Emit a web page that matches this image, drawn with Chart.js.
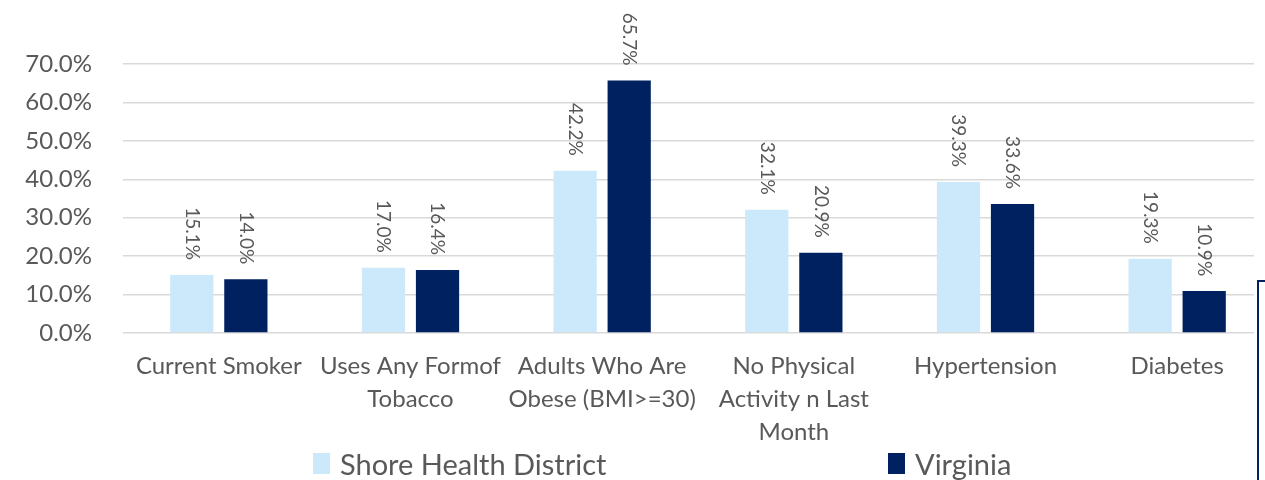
<!DOCTYPE html>
<html>
<head>
<meta charset="utf-8">
<script src="https://cdn.jsdelivr.net/npm/chart.js@4/dist/chart.umd.min.js"></script>
<style>
  html, body { margin: 0; padding: 0; background: #fff; overflow: hidden; }
  #wrap { position: relative; width: 1265px; height: 480px; overflow: hidden; }
  #legend { position: absolute; left: 0; top: 446px; width: 1265px; height: 34px;
            font-family: Lato, "Open Sans", sans-serif; font-size: 29px; color: #595959; }
  .item { position: absolute; top: 0; display: flex; align-items: center; }
  .box { width: 17px; height: 21px; margin-right: 10px; }
</style>
</head>
<body>
<div id="wrap">
  <canvas id="myChart" width="1280" height="480"></canvas>
  <div id="legend"></div>
</div>
<script>
const categories = ["Current Smoker", ["Uses Any Formof", "Tobacco"], ["Adults Who Are", "Obese (BMI>=30)"],
    ["No Physical", "Activity n Last", "Month"], "Hypertension", "Diabetes"]
const seriesNames = ["Shore Health District", "Virginia"]
const shoreValues = [15.1, 17.0, 42.2, 32.1, 39.3, 19.3]
const virginiaValues = [14.0, 16.4, 65.7, 20.9, 33.6, 10.9]
const yTicks = [0, 10, 20, 30, 40, 50, 60, 70]
const barColors = ['#cce9fb', '#00215f']
const textColor = '#595959'
const fontFamily = 'Lato, "Open Sans", sans-serif'

// value labels, rotated, above each bar
const barLabels = {
    id: 'barLabels',
    afterDatasetsDraw(chart) {
        const ctx = chart.ctx
        ctx.save()
        ctx.font = '19px ' + fontFamily
        ctx.fillStyle = textColor
        ctx.textAlign = 'right'
        ctx.textBaseline = 'middle'
        chart.data.datasets.forEach((ds, i) => {
            chart.getDatasetMeta(i).data.forEach((bar, j) => {
                ctx.save()
                ctx.translate(bar.x, bar.y - 15)
                ctx.rotate(Math.PI / 2)
                ctx.fillText(ds.data[j].toFixed(1) + '%', 0, 0)
                ctx.restore()
            })
        })
        ctx.restore()
    }
}

// the picture is cut at the right: a strip of white and the edge of another frame
const edgeFrame = {
    id: 'edgeFrame',
    afterDraw(chart) {
        const ctx = chart.ctx
        ctx.save()
        ctx.fillStyle = '#fff'
        ctx.fillRect(1254, 0, 26, 480)
        ctx.strokeStyle = '#00215f'
        ctx.lineWidth = 2
        ctx.beginPath()
        ctx.moveTo(1280, 281)
        ctx.lineTo(1258, 281)
        ctx.lineTo(1258, 480)
        ctx.stroke()
        ctx.restore()
    }
}

new Chart("myChart", {
    type: "bar",
    data: {
        labels: categories,
        datasets: [{
            label: seriesNames[0],
            backgroundColor: barColors[0],
            data: shoreValues,
            categoryPercentage: 0.564,
            barPercentage: 0.8
        }, {
            label: seriesNames[1],
            backgroundColor: barColors[1],
            data: virginiaValues,
            categoryPercentage: 0.564,
            barPercentage: 0.8
        }]
    },
    options: {
        responsive: false,
        animation: false,
        layout: { padding: { top: 64, left: 13, right: 7, bottom: 14 } },
        scales: {
            y: {
                min: 0,
                max: 70,
                afterBuildTicks: axis => { axis.ticks = yTicks.map(v => ({ value: v })) },
                afterFit: axis => { axis.width = 110 },
                border: { display: false },
                grid: { color: '#d9d9d9', lineWidth: 1.5, drawTicks: false },
                ticks: {
                    color: textColor,
                    padding: 31,
                    font: { family: fontFamily, size: 24 },
                    callback: v => v.toFixed(1) + '%'
                }
            },
            x: {
                border: { display: false },
                grid: { display: false, drawTicks: false },
                ticks: {
                    color: textColor,
                    padding: 17,
                    maxRotation: 0,
                    autoSkip: false,
                    font: { family: fontFamily, size: 24, lineHeight: 1.375 }
                }
            }
        },
        plugins: {
            legend: { display: false },
            tooltip: { enabled: false }
        }
    },
    plugins: [barLabels, edgeFrame]
})

// legend below the chart
const legendPos = [313, 888]
const legend = document.getElementById('legend')
seriesNames.forEach((name, i) => {
    const item = document.createElement('div')
    item.className = 'item'
    item.style.left = legendPos[i] + 'px'
    item.innerHTML = '<span class="box" style="background:' + barColors[i] + '"></span><span>' + name + '</span>'
    legend.appendChild(item)
})
</script>
</body>
</html>
